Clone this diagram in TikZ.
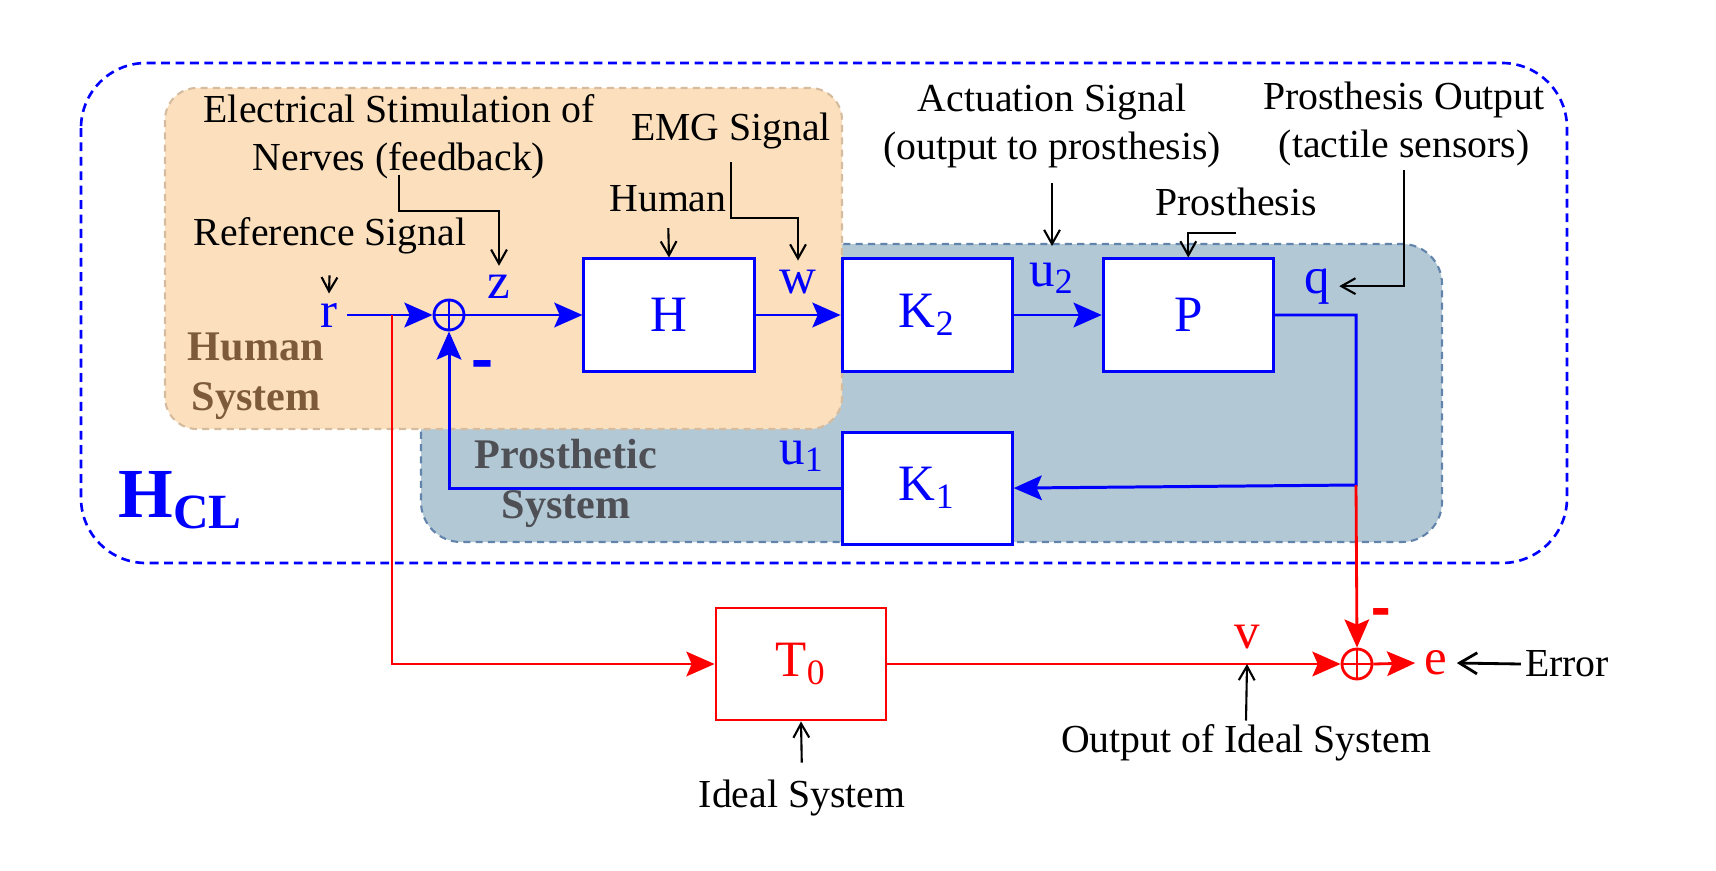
\documentclass[tikz,border=0pt]{standalone}
\usepackage{fontspec}
\setmainfont{Liberation Serif}
\usepackage{tikz}
\usetikzlibrary{positioning, arrows.meta}

\definecolor{peach}{RGB}{252,224,190}
\definecolor{steel}{RGB}{178,200,213}
\definecolor{tanline}{RGB}{214,188,158}
\definecolor{steelline}{RGB}{98,132,172}
\definecolor{humbrown}{RGB}{125,90,58}
\definecolor{prosgray}{RGB}{78,80,86}

\begin{document}
\begin{tikzpicture}[x=0.01cm, y=-0.01cm, >={Stealth[length=8pt, width=7pt, inset=1.5pt]},
 BL/.style={rectangle, draw=blue, fill=white, line width=0.85pt, minimum width=1.7cm, minimum height=1.12cm, text=blue, font=\fontsize{14.5}{17}\selectfont},
 SU/.style={circle, draw=blue, line width=0.8pt, minimum size=0.3cm, inner sep=0pt},
 SG/.style={text=blue, inner sep=2.5pt, font=\fontsize{14.5}{17}\selectfont},
 MS/.style={inner sep=0pt, font=\bfseries\fontsize{15}{17}\selectfont},
 NT/.style={inner sep=1pt, align=center, font=\fontsize{11.3}{13.6}\selectfont},
 NL/.style={-{Straight Barb[length=4pt, width=4.5pt]}, line width=0.6pt},
 WR/.style={->, blue, line width=0.85pt},
 RL/.style={->, red, line width=0.8pt},
 ]

	\useasboundingbox (0,0) rectangle (1716,870);

	\draw[blue, line width=0.75pt, dash pattern=on 2.5pt off 1.6pt, rounded corners=0.65cm] (81,63) rectangle (1567,563);
	\draw[draw=steelline, fill=steel, line width=0.6pt, dash pattern=on 2pt off 1.5pt, rounded corners=0.4cm] (421,244) rectangle (1442,542);
	\draw[draw=tanline, fill=peach, line width=0.6pt, dash pattern=on 2pt off 1.5pt, rounded corners=0.32cm] (165,88) rectangle (842,429);

	\node[text=humbrown, align=center, font=\bfseries\fontsize{12}{14.2}\selectfont] (HumanSys) at (256,376) {Human\\System};
	\node[text=prosgray, align=center, font=\bfseries\fontsize{12}{14.2}\selectfont] (ProsSys) at (566,483) {Prosthetic\\System};
	\node[text=blue, anchor=west, inner sep=0pt, font=\bfseries\fontsize{20}{24}\selectfont] (HCL) at (118,500) {H\textsubscript{CL}};


	\node[BL] (Human) at (669,315) {H};
	\node[BL] (Ktwo) [right=0.85cm of Human] {K\textsubscript{2}};
	\node[BL] (Prosthesis) [right=0.88cm of Ktwo] {P};
	\node[BL] (Kone) [below=0.58cm of Ktwo] {K\textsubscript{1}};
	\node[BL, draw=red, text=red, line width=0.8pt] (Ideal) at (801,664) {T\textsubscript{0}};

	\node[SU] (SumIn) at (449,315) {};
	\draw[blue, line width=0.8pt] (SumIn.north) -- (SumIn.south) (SumIn.west) -- (SumIn.east);
	\node[SU, draw=red] (SumOut) at (1357,664) {};
	\draw[red, line width=0.8pt] (SumOut.north) -- (SumOut.south) (SumOut.west) -- (SumOut.east);

	\node[SG] (r) at (329,315) {r};
	\node[SG] (z) at (499,287) {z};
	\node[SG] (w) at (798,282) {w};
	\node[SG, anchor=base] (utwo) at (1052,286) {u\textsubscript{2}};
	\node[SG, anchor=base] (q) at (1317,293) {q};
	\node[SG, anchor=base] (uone) at (802,464) {u\textsubscript{1}};
	\node[MS, text=blue] (MinusIn) at (482,372) {\scalebox{1.25}[1.5]{-}};
	\node[SG, text=red] (v) at (1247,637) {v};
	\node[SG, text=red] (e) at (1436,663) {e};
	\node[MS, text=red] (MinusOut) at (1381,620) {\scalebox{1.1}[1.5]{-}};

	\coordinate (Split) at (392,315);
	\coordinate (Branch) at (1356,485);
	\coordinate (VPoint) at (1247,664);


	\draw[WR] (r.east) -- (SumIn.west);
	\draw[WR] (SumIn.east) -- (Human.west);
	\draw[WR] (Human.east) -- (Ktwo.west);
	\draw[WR] (Ktwo.east) -- (Prosthesis.west);
	\draw[WR] (Prosthesis.east) -| (Branch) -- (Kone.east);
	\draw[WR] (Kone.west) -| (SumIn.south);

	\draw[RL] (Split) |- (Ideal.west);
	\draw[RL] (Ideal.east) -- (SumOut.west);
	\draw[RL] (Branch) -- (SumOut.north);
	\draw[RL] (SumOut.east) -- (e.west);


	\node[NT] (RefSig) at (330,236) {Reference Signal};
	\node[NT] (Stim) at (399,137) {Electrical Stimulation of\\Nerves (feedback)};
	\node[NT] (EMG) at (731,131) {EMG Signal};
	\node[NT] (HumLab) at (668,199) {Human};
	\node[NT] (Act) at (1052,126) {Actuation Signal\\(output to prosthesis)};
	\node[NT] (ProsLab) at (1236,202) {Prosthesis};
	\node[NT] (ProsOut) at (1404,124) {Prosthesis Output\\(tactile sensors)};
	\node[NT] (IdealLab) at (802,798) {Ideal System};
	\node[NT] (OutLab) at (1246,743) {Output of Ideal System};
	\node[NT] (Err) at (1567,664) {Error};

	\draw[NL, shorten <=4.8pt] (RefSig.south) -- (r.north);
	\draw[NL] ([yshift=2.5pt]Stim.south) -- ++(0,36) -| (z.north);
	\draw[NL, shorten <=2.5pt] (EMG.south) -- ++(0,65) -| (w.north);
	\draw[NL, shorten <=3.3pt] (HumLab.south) -- (Human.north);
	\draw[NL, shorten <=3pt, shorten >=2pt] (Act.south) -- (utwo.north);
	\draw[NL] ([yshift=-3.6pt]ProsLab.south) -| (Prosthesis.north);
	\draw[NL] (ProsOut.south) |- (q.east);
	\draw[NL, shorten <=3.7pt] (IdealLab.north) -- (Ideal.south);
	\draw[NL] (OutLab.north) -- (VPoint);
	\draw[NL, line width=0.8pt, -{Straight Barb[length=5pt, width=6pt]}] (Err.west) -- (e.east);

\end{tikzpicture}
\end{document}
